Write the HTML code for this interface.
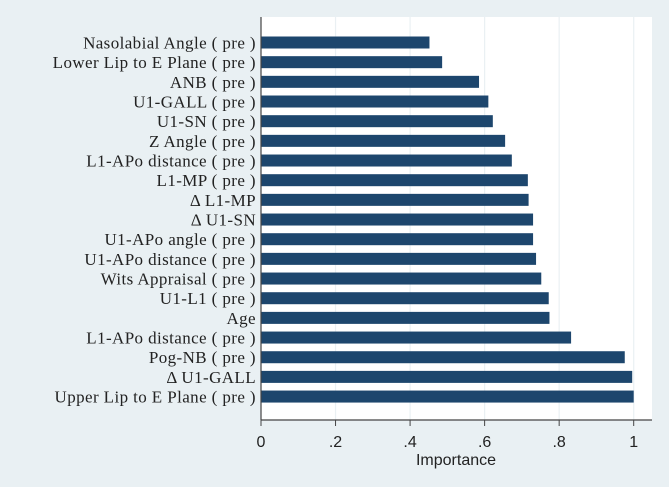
<!DOCTYPE html>
<html><head><meta charset="utf-8"><style>
html,body{margin:0;padding:0;background:#e9f0f3;}
svg{display:block;}
</style></head><body>
<svg id="chart" width="669" height="487" xmlns="http://www.w3.org/2000/svg">
<rect x="0" y="0" width="669" height="487" fill="#e9f0f3"/>
<rect x="261" y="17" width="391" height="403" fill="#ffffff"/>
<g id="grid"></g>
<g id="bars"></g>
<g id="labels"></g>
<g id="ticks"></g>
<line x1="261" y1="17" x2="261" y2="420" stroke="#444" stroke-width="1.2"/>
<line x1="261" y1="420" x2="652" y2="420" stroke="#444" stroke-width="1.2"/>
<text x="456" y="465" text-anchor="middle" font-family="Liberation Sans, sans-serif" font-size="16" fill="#222">Importance</text>
</svg>
<script>
const categories = ["Nasolabial Angle ( pre )","Lower Lip to E Plane ( pre )","ANB ( pre )","U1-GALL ( pre )","U1-SN ( pre )","Z Angle ( pre )","L1-APo distance ( pre )","L1-MP ( pre )","Δ L1-MP","Δ U1-SN","U1-APo angle ( pre )","U1-APo distance ( pre )","Wits Appraisal ( pre )","U1-L1 ( pre )","Age","L1-APo distance ( pre )","Pog-NB ( pre )","Δ U1-GALL","Upper Lip to E Plane ( pre )"];
const values = [0.452,0.486,0.585,0.61,0.622,0.655,0.673,0.716,0.718,0.73,0.73,0.738,0.752,0.772,0.774,0.832,0.976,0.996,1.0];
const ticks = [0,0.2,0.4,0.6,0.8,1];
const tickLabels = ["0",".2",".4",".6",".8","1"];
const NS="http://www.w3.org/2000/svg";
const x0=261, xScale=372.7;
function xPos(v){return x0+v*xScale;}
function yPos(i){return 42.5+i*19.67;}
const grid=document.getElementById('grid'), bars=document.getElementById('bars'), labels=document.getElementById('labels'), tk=document.getElementById('ticks');
ticks.forEach((t,i)=>{
  const x=xPos(t);
  if(t>0){const g=document.createElementNS(NS,'line');
    g.setAttribute('x1',x);g.setAttribute('x2',x);g.setAttribute('y1',17);g.setAttribute('y2',420);
    g.setAttribute('stroke','#eaf0f3');g.setAttribute('stroke-width','1.2');
    
    
    grid.appendChild(g);}
  const l=document.createElementNS(NS,'line');
  l.setAttribute('x1',x);l.setAttribute('x2',x);l.setAttribute('y1',420);l.setAttribute('y2',426);
  l.setAttribute('stroke','#444');
  
  
  tk.appendChild(l);
  const tx=document.createElementNS(NS,'text');
  tx.setAttribute('x',x);tx.setAttribute('y',447);tx.setAttribute('text-anchor','middle');
  tx.setAttribute('font-family','Liberation Sans, sans-serif');tx.setAttribute('font-size','16');tx.setAttribute('fill','#222');
  tx.textContent=tickLabels[i];
  
  
  tk.appendChild(tx);
});
categories.forEach((c,i)=>{
  const y=yPos(i);
  const r=document.createElementNS(NS,'rect');
  r.setAttribute('x',x0);r.setAttribute('y',y-6);r.setAttribute('width',xPos(values[i])-x0);r.setAttribute('height',12);
  r.setAttribute('fill','#1d466d');
  
  
  bars.appendChild(r);
  const t=document.createElementNS(NS,'text');
  t.setAttribute('x',256);t.setAttribute('y',y+6);t.setAttribute('text-anchor','end');
  t.setAttribute('font-family','Liberation Serif, serif');t.setAttribute('font-size','17');t.setAttribute('fill','#222');
  t.setAttribute('letter-spacing','0.4');
  t.textContent=c;
  
  
  labels.appendChild(t);
});
</script>
</body></html>
